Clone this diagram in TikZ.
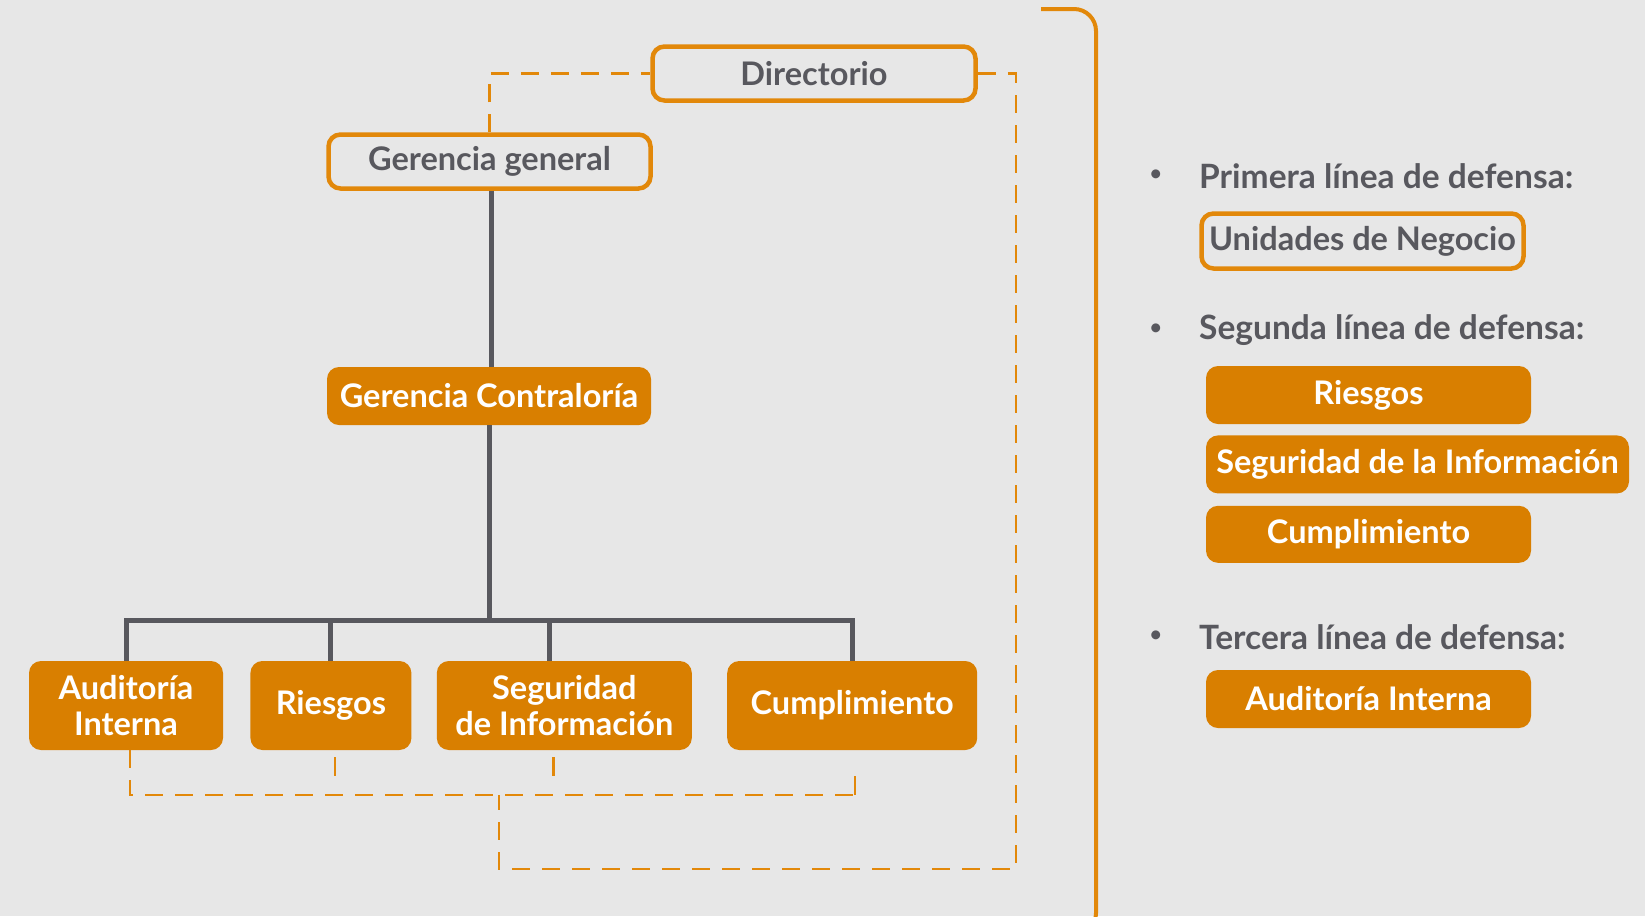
\documentclass[tikz,border=0pt]{standalone}
\usepackage{fontspec}
\setmainfont{Lato}
\usetikzlibrary{positioning}

\definecolor{naranja}{RGB}{217,127,0}
\definecolor{borde}{RGB}{226,136,10}
\definecolor{gris}{RGB}{88,88,94}
\definecolor{fondo}{RGB}{231,231,231}

\tikzset{
  letra/.style={font=\fontsize{32.5}{36}\selectfont\bfseries},
  caja/.style={letra, rounded corners=12pt, fill=naranja, text=white, align=center, inner sep=0pt},
  marco/.style={letra, rounded corners=12pt, draw=borde, line width=4.5pt, text=gris, inner sep=0pt},
  rama/.style={draw=gris, line width=5pt},
  enlace/.style={draw=borde, line width=2.5pt, dash pattern=on 18pt off 12pt},
  suelto/.style={draw=borde, line width=2.5pt, dash pattern=on 0pt off 7pt on 19pt off 40pt},
  titulo/.style={font=\fontsize{33.5}{36}\selectfont\bfseries, text=gris, anchor=west, inner sep=0pt},
  punto/.style={text=gris, font=\fontsize{24}{24}\selectfont, inner sep=0pt},
}

\begin{document}
\begin{tikzpicture}[x=1pt, y=-1pt]
  \fill[fondo] (0,0) rectangle (1645,916);
  \useasboundingbox (0,0) rectangle (1645,916);

  % organigrama
  \node[marco, minimum width=323pt, minimum height=54pt] (dir) at (814,73.5) {Directorio};
  \node[marco, minimum width=322pt, minimum height=54pt] (gg) at (489.5,161.5) {Gerencia general};
  \node[caja, minimum width=324pt, minimum height=58pt] (gc) at (489,396) {Gerencia Contraloría};
  \node[caja, minimum width=194pt, minimum height=89pt] (ai) at (126,705.5) {Auditoría\\Interna};
  \node[caja, minimum width=161pt, minimum height=89pt, right=27pt of ai] (rg) {Riesgos};
  \node[caja, minimum width=255pt, minimum height=89pt, right=25pt of rg] (si) {Seguridad\\de Información};
  \node[caja, minimum width=250pt, minimum height=89pt, right=35pt of si] (cu) {Cumplimiento};

  \coordinate (bar) at (0,620);
  \coordinate (dbar) at (0,795);
  \coordinate (dj) at (499,795);
  \coordinate (dcorner) at (1016,869);

  \draw[rama] ([xshift=2pt]gc.north |- gg.south) -- ([xshift=2pt]gc.north);
  \draw[rama] (gc) -- (gc |- bar);
  \draw[rama] (ai.north) |- (cu.north |- bar) -- (cu.north);
  \draw[rama] (rg.north) -- (rg.north |- bar);
  \draw[rama] ([xshift=-14.5pt]si.north) -- ([xshift=-14.5pt]si.north |- bar);

  \draw[enlace] (gg.north) |- (dir.west);
  \draw[enlace] (dir.east) -| (dcorner) -| (dj);
  \draw[enlace] ([xshift=4pt]ai.south) |- ([xshift=3pt]cu.south |- dbar);
  \draw[suelto] ([xshift=4pt]rg.south) -- ([xshift=4pt]rg.south |- dbar);
  \draw[suelto] ([xshift=-11pt]si.south) -- ([xshift=-11pt]si.south |- dbar);
  \draw[enlace, dash pattern=on 0pt off 26pt on 20pt off 40pt] ([xshift=3pt]cu.south) -- ([xshift=3pt]cu.south |- dbar);

  % llave
  \draw[borde, line width=4pt, rounded corners=22pt] (1041,9) -- (1096,9) -- (1096,935) -- (1060,935);

  % lineas de defensa
  \node[titulo] (h1) at (1199,176) {Primera línea de defensa:};
  \node[punto, left=36pt of h1] (p1) {•};
  \node[marco, minimum width=322pt, minimum height=55pt] (un) at (1362.5,241) {Unidades de Negocio};

  \node[titulo] (h2) at (1199,330) {Segunda línea de defensa:};
  \node[punto, left=36pt of h2] (p2) {•};
  \node[caja, minimum width=325pt, minimum height=58pt] (r2) at (1368.5,395) {Riesgos};
  \node[caja, minimum width=423pt, minimum height=58pt, below=11pt of r2.south west, anchor=north west] (s2) {Seguridad de la Información};
  \node[caja, minimum width=325pt, minimum height=57pt, below=12pt of s2.south west, anchor=north west] (c2) {Cumplimiento};

  \node[titulo] (h3) at (1199,637) {Tercera línea de defensa:};
  \node[punto, left=36pt of h3] (p3) {•};
  \node[caja, minimum width=325pt, minimum height=58pt] (a3) at (1368.5,699) {Auditoría Interna};
\end{tikzpicture}
\end{document}
